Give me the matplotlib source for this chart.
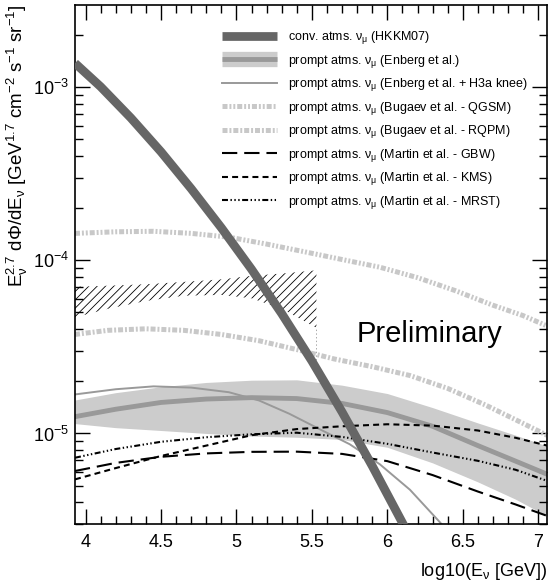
import matplotlib
matplotlib.use("Agg")
import matplotlib.pyplot as plt
from matplotlib.lines import Line2D
from matplotlib.ticker import LogLocator, MultipleLocator, NullFormatter, FuncFormatter

plt.rcParams['font.family'] = ['Liberation Sans', 'DejaVu Sans']
plt.rcParams['mathtext.fontset'] = 'custom'
plt.rcParams['mathtext.rm'] = 'Liberation Sans'
plt.rcParams['mathtext.it'] = 'Liberation Sans:italic'
plt.rcParams['mathtext.sf'] = 'Liberation Sans'
plt.rcParams['lines.scale_dashes'] = False
plt.rcParams['hatch.linewidth'] = 0.6

# conventional atmospheric flux (HKKM07)
conv_x = [3.93, 4.10, 4.30, 4.50, 4.70, 4.90, 5.10, 5.30, 5.50, 5.70, 5.90, 6.10, 6.13]
conv_y = [1.374e-3, 1.005e-3, 6.64e-4, 4.23e-4, 2.59e-4, 1.54e-4, 8.87e-5, 4.92e-5,
          2.62e-5, 1.33e-5, 6.49e-6, 3.05e-6, 2.72e-6]

# prompt, Enberg et al. (central + band)
enb_x = [3.93, 4.2, 4.5, 4.8, 5.1, 5.4, 5.7, 6.0, 6.3, 6.6, 6.85, 7.06]
enb_y = [1.25e-5, 1.38e-5, 1.51e-5, 1.58e-5, 1.61e-5, 1.59e-5, 1.49e-5, 1.32e-5,
         1.10e-5, 8.51e-6, 6.92e-6, 5.81e-6]
enb_hi = [1.56e-5, 1.72e-5, 1.86e-5, 1.97e-5, 2.03e-5, 2.04e-5, 1.90e-5, 1.70e-5,
          1.41e-5, 1.15e-5, 9.77e-6, 8.45e-6]
enb_lo = [1.14e-5, 1.08e-5, 1.04e-5, 1.00e-5, 9.66e-6, 9.51e-6, 9.23e-6, 8.32e-6,
          6.76e-6, 5.25e-6, 4.17e-6, 3.33e-6]

# Enberg + H3a knee
h3a_x = [3.93, 4.2, 4.45, 4.7, 4.95, 5.15, 5.35, 5.55, 5.75, 5.95, 6.15, 6.35, 6.37]
h3a_y = [1.68e-5, 1.80e-5, 1.87e-5, 1.84e-5, 1.73e-5, 1.55e-5, 1.30e-5, 1.06e-5,
         8.67e-6, 6.64e-6, 4.73e-6, 3.06e-6, 2.92e-6]

# Bugaev et al.
qgsm_x = [3.93, 4.2, 4.45, 4.7, 4.95, 5.2, 5.45, 5.7, 5.95, 6.2, 6.45, 6.7, 6.9, 7.06]
qgsm_y = [1.43e-4, 1.46e-4, 1.47e-4, 1.43e-4, 1.36e-4, 1.24e-4, 1.12e-4, 1.01e-4,
          9.12e-5, 7.94e-5, 6.68e-5, 5.50e-5, 4.79e-5, 4.17e-5]
rqpm_x = [3.93, 4.15, 4.4, 4.65, 4.9, 5.15, 5.4, 5.65, 5.9, 6.15, 6.4, 6.65, 6.85, 7.06]
rqpm_y = [3.73e-5, 3.94e-5, 4.02e-5, 3.94e-5, 3.73e-5, 3.43e-5, 3.05e-5, 2.69e-5,
          2.43e-5, 2.16e-5, 1.82e-5, 1.46e-5, 1.20e-5, 9.75e-6]

# Martin et al.
mart_x = [3.93, 4.2, 4.5, 4.8, 5.1, 5.4, 5.7, 6.0, 6.3, 6.6, 6.85, 7.06]
gbw_y = [6.07e-6, 6.76e-6, 7.33e-6, 7.67e-6, 7.83e-6, 7.85e-6, 7.62e-6, 6.92e-6,
         5.75e-6, 4.62e-6, 3.89e-6, 3.34e-6]
kms_y = [5.43e-6, 6.31e-6, 7.41e-6, 8.51e-6, 9.77e-6, 1.06e-5, 1.10e-5, 1.13e-5,
         1.11e-5, 1.04e-5, 9.44e-6, 8.51e-6]
mrst_y = [7.24e-6, 8.13e-6, 8.95e-6, 9.51e-6, 9.89e-6, 1.01e-5, 9.55e-6, 8.71e-6,
          7.76e-6, 6.95e-6, 6.17e-6, 5.32e-6]

# hatched upper limit region
lim_x = [3.93, 4.15, 4.4, 4.65, 4.9, 5.1, 5.3, 5.53]
lim_hi = [7.03e-5, 7.13e-5, 7.27e-5, 7.50e-5, 7.76e-5, 8.13e-5, 8.38e-5, 8.75e-5]
lim_lo = [4.68e-5, 5.25e-5, 5.82e-5, 6.24e-5, 6.31e-5, 6.03e-5, 5.25e-5, 4.07e-5]

labels = [
    r'conv. atms. $\mathregular{\nu_{\mu}}$ (HKKM07)',
    r'prompt atms. $\mathregular{\nu_{\mu}}$ (Enberg et al.)',
    r'prompt atms. $\mathregular{\nu_{\mu}}$ (Enberg et al. + H3a knee)',
    r'prompt atms. $\mathregular{\nu_{\mu}}$ (Bugaev et al. - QGSM)',
    r'prompt atms. $\mathregular{\nu_{\mu}}$ (Bugaev et al. - RQPM)',
    r'prompt atms. $\mathregular{\nu_{\mu}}$ (Martin et al. - GBW)',
    r'prompt atms. $\mathregular{\nu_{\mu}}$ (Martin et al. - KMS)',
    r'prompt atms. $\mathregular{\nu_{\mu}}$ (Martin et al. - MRST)',
]

C_CONV = '#666666'
C_BAND = '#cccccc'
C_ENB = '#999999'
C_BUG = '#c8c8c8'
qgsm_ls = (0, (3.6, 1.4, 1.4, 1.4, 1.4, 1.4))
rqpm_ls = (0, (3.6, 1.4, 1.4, 1.4))
gbw_ls = (0, (11, 5))
kms_ls = (0, (4.3, 3))
mrst_ls = (0, (4.3, 1.8, 1, 1.8, 1, 1.8, 1, 1.8))

fig = plt.figure(figsize=(5.5, 5.81), dpi=100)
ax = fig.add_axes([0.1358, 0.0981, 0.8587, 0.8938])

ax.fill_between(enb_x, enb_lo, enb_hi, color=C_BAND, lw=0, zorder=1)
ax.plot(enb_x, enb_y, color=C_ENB, lw=3.5, zorder=2)
ax.plot(h3a_x, h3a_y, color=C_ENB, lw=1.4, zorder=2)
ax.plot(qgsm_x, qgsm_y, color=C_BUG, lw=3.6, ls=qgsm_ls, zorder=2)
ax.plot(rqpm_x, rqpm_y, color=C_BUG, lw=3.6, ls=rqpm_ls, zorder=2)
ax.plot(mart_x, gbw_y, color='black', lw=1.5, ls=gbw_ls, zorder=3)
ax.plot(mart_x, kms_y, color='black', lw=1.5, ls=kms_ls, zorder=3)
ax.plot(mart_x, mrst_y, color='black', lw=1.5, ls=mrst_ls, zorder=3)
ax.fill_between(lim_x, lim_lo, lim_hi, facecolor='none', edgecolor='black',
                hatch='////', lw=0, zorder=3)
ax.vlines(lim_x[-1], 2.65e-5, lim_lo[-1], color='#999999', lw=0.6, ls=':', zorder=3)
ax.plot(conv_x, conv_y, color=C_CONV, lw=6.3, zorder=4, solid_capstyle='butt')

ax.text(6.28, 3.73e-5, 'Preliminary', fontsize=21, ha='center', va='center')

ax.set_yscale('log')
ax.set_xlim(3.928, 7.058)
ax.set_ylim(3.0e-6, 2.99e-3)
ax.xaxis.set_major_locator(MultipleLocator(0.5))
ax.xaxis.set_minor_locator(MultipleLocator(0.1))
ax.yaxis.set_major_locator(LogLocator(base=10))
ax.yaxis.set_minor_locator(LogLocator(base=10, subs=range(2, 10)))
ax.yaxis.set_minor_formatter(NullFormatter())
ax.xaxis.set_major_formatter(FuncFormatter(lambda v, p: f'{v:g}'))

ax.tick_params(which='both', direction='in', top=True, right=True, width=1.0)
ax.tick_params(which='major', length=10.5, labelsize=13)
ax.tick_params(axis='x', which='major', pad=7)
ax.tick_params(axis='y', which='major', pad=4)
ax.tick_params(which='minor', length=5.5)
for s in ax.spines.values():
    s.set_linewidth(1.2)

ax.set_ylabel(r'$\mathregular{E_{\nu}^{2.7}\ d\Phi/dE_{\nu}\ [GeV^{1.7}\ cm^{-2}\ s^{-1}\ sr^{-1}]}$',
              fontsize=13.5, loc='top')
ax.yaxis.set_label_coords(-0.095, 1.0)
ax.set_xlabel(r'log10($\mathregular{E_{\nu}}$ [GeV])', fontsize=13, loc='right')
ax.xaxis.set_label_coords(1.0, -0.071)

handles = [
    Line2D([], [], color=C_CONV, lw=6.3, solid_capstyle='butt'),
    (Line2D([], [], color=C_BAND, lw=11, solid_capstyle='butt'),
     Line2D([], [], color=C_ENB, lw=3.5, solid_capstyle='butt')),
    Line2D([], [], color=C_ENB, lw=1.4),
    Line2D([], [], color=C_BUG, lw=3.6, ls=qgsm_ls),
    Line2D([], [], color=C_BUG, lw=3.6, ls=rqpm_ls),
    Line2D([], [], color='black', lw=1.5, ls=gbw_ls),
    Line2D([], [], color='black', lw=1.5, ls=kms_ls),
    Line2D([], [], color='black', lw=1.5, ls=mrst_ls),
]
fig.legend(handles, labels, loc='upper left', bbox_to_anchor=(0.4036, 0.950),
           frameon=False, fontsize=9, handlelength=4.4, handletextpad=0.88,
           labelspacing=0.52, borderpad=0, borderaxespad=0)

fig.savefig('out.png', dpi=100)
